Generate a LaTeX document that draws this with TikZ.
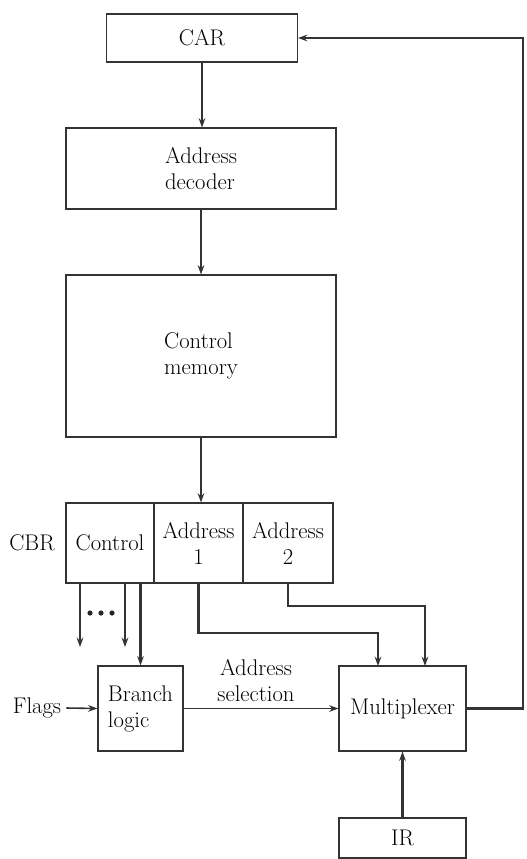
\documentclass[tikz,border=0pt]{standalone}
\usetikzlibrary{arrows.meta,calc}
\begin{document}
\begin{tikzpicture}[x=0.75pt,y=-0.75pt,
  font=\fontsize{17}{19.5}\selectfont,
  box/.style={draw=black!80,line width=0.8pt,inner sep=0pt,align=left},
  conn/.style={draw=black!80,line width=1.2pt,-{Stealth[length=7pt,width=5pt]}},
  thickconn/.style={draw=black!80,line width=1.9pt,-{Stealth[length=7pt,width=5pt]}},
  lbl/.style={inner sep=0pt,align=center}]
\useasboundingbox (0,0) rectangle (527,859);
% boxes
\node[box,minimum width=191*0.75pt,minimum height=48*0.75pt] (car) at (202,38) {CAR};
\node[box,minimum width=270*0.75pt,minimum height=81*0.75pt] (dec) at (201,168.5) {Address\\decoder};
\node[box,minimum width=270*0.75pt,minimum height=162*0.75pt] (mem) at (201,356) {Control\\memory};
\node[box,minimum width=88*0.75pt,minimum height=80*0.75pt] (ctrl) at (110,543) {Control};
\node[box,align=center,minimum width=89*0.75pt,minimum height=80*0.75pt] (a1) at (198.5,543) {Address\\1};
\node[box,align=center,minimum width=90*0.75pt,minimum height=80*0.75pt] (a2) at (288,543) {Address\\2};
\node[box,minimum width=85*0.75pt,minimum height=85*0.75pt] (br) at (140.5,708.5) {Branch\\logic};
\node[box,minimum width=127*0.75pt,minimum height=85*0.75pt] (mux) at (402.5,708.5) {Multiplexer};
\node[box,minimum width=127*0.75pt,minimum height=40*0.75pt] (ir) at (402.5,838) {IR};
% labels
\node[lbl] (cbr) at (32,543) {CBR};
\node[lbl] (flags) at (37,708) {Flags};
\node[lbl] (asel) at (256,681) {Address\\selection};
% coordinates
\coordinate (e1) at (80,647);
\coordinate (e2) at (125,647);
\coordinate (m1) at (378,666);
\coordinate (m2) at (425,666);
\coordinate (rt) at (523,38);
% connectors
\draw[conn] (car.south) -- (car.south |- dec.north);
\draw[conn] (dec.south) -- (mem.north);
\draw[conn] (mem.south) -- (mem.south |- a1.north);
\draw[conn] (ctrl.south -| e1) -- (e1);
\draw[conn] (ctrl.south -| e2) -- (e2);
\draw[thickconn] (br.north |- ctrl.south) -- (br.north);
\fill[black!85] (90,613) circle (2.6) (101,613) circle (2.6) (112,613) circle (2.6);
\draw[thickconn] (a1.south) -- (a1.south |- 0,633) -| (m1);
\draw[thickconn] (a2.south) -- (a2.south |- 0,606) -| (m2);
\draw[conn] (flags.east) ++(5,0) -- (br.west);
\draw[conn] (br.east) -- (mux.west);
\draw[thickconn] (ir.north) -- (mux.south);
\draw[thickconn] (mux.east) -| (rt) -- (car.east);
\end{tikzpicture}
\end{document}
